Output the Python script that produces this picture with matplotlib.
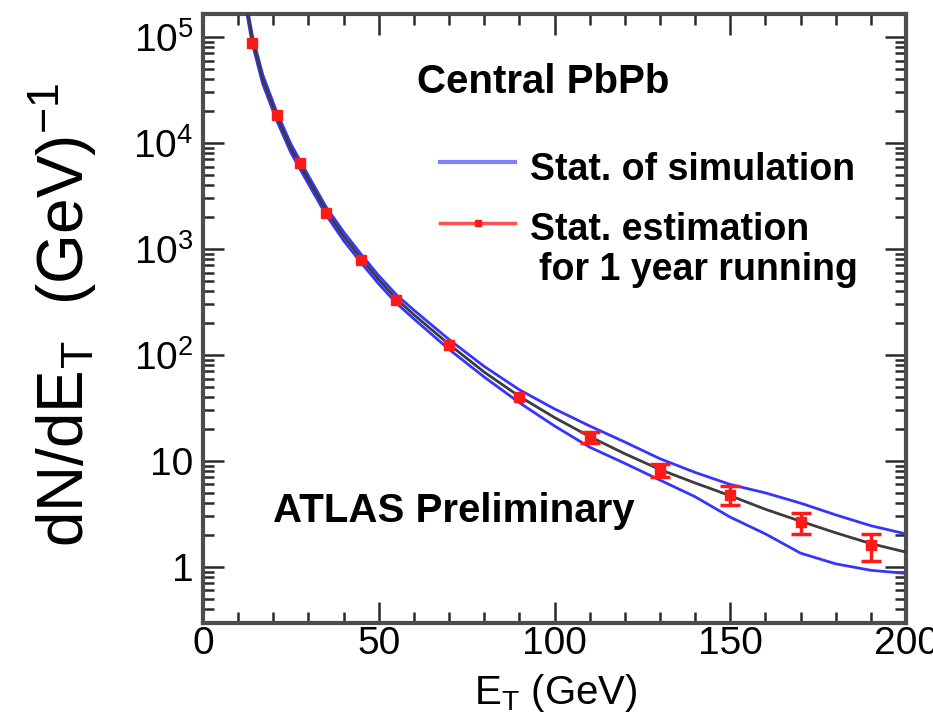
import matplotlib
matplotlib.use("Agg")
import numpy as np
import matplotlib.pyplot as plt
from matplotlib.lines import Line2D
from matplotlib.ticker import (MultipleLocator, LogLocator, FuncFormatter,
                               NullFormatter)

plt.rcParams['font.family'] = ['Liberation Sans', 'DejaVu Sans']
plt.rcParams['mathtext.fontset'] = 'custom'
plt.rcParams['mathtext.rm'] = 'Liberation Sans'
plt.rcParams['mathtext.it'] = 'Liberation Sans:italic'
plt.rcParams['mathtext.bf'] = 'Liberation Sans:bold'

# Projected measurement for one year of running (points with stat. errors)
et_pts = [14, 21, 27.5, 35, 45, 55, 70, 90, 110, 130, 150, 170, 190]
val_pts = [8.8e4, 1.83e4, 6.5e3, 2.2e3, 790, 330, 124, 40, 16.8, 8.2,
           4.8, 2.66, 1.6]
err_pts = [0, 0, 0, 0, 0, 0, 0, 0, 2.0, 1.2, 0.95, 0.6, 0.45]

# Central spectrum curve
fit_et = [12, 14, 17, 21, 25, 30, 35, 40, 45, 50, 55, 60, 70, 80, 90, 100,
          110, 120, 130, 140, 150, 160, 170, 180, 190, 200]
fit_val = [2.24e5, 9.5e4, 4.0e4, 1.78e4, 8.9e3, 4.5e3, 2.3e3, 1.32e3, 813,
           513, 339, 240, 126, 69, 40.7, 25.7, 17.0, 11.7, 8.3, 6.2, 4.7,
           3.5, 2.7, 2.1, 1.66, 1.38]

# Statistical band of the simulation (upper / lower edges)
band_et = fit_et
band_hi = [2.45e5, 1.05e5, 4.4e4, 1.95e4, 9.8e3, 4.9e3, 2.5e3, 1.45e3, 890,
           560, 370, 265, 140, 78, 47, 31, 21.4, 15.1, 10.5, 7.8, 6.0, 5.0,
           4.0, 3.1, 2.45, 2.05]
band_lo = [2.04e5, 8.7e4, 3.6e4, 1.62e4, 8.1e3, 4.1e3, 2.1e3, 1.2e3, 740,
           468, 309, 219, 113, 62, 35.5, 21.4, 13.5, 9.5, 6.6, 4.6, 2.95,
           2.05, 1.35, 1.07, 0.93, 0.87]

BLUE = '#3535ff'
RED = '#ff1a1a'
FIT = '#3c3c3c'

fig = plt.figure(figsize=(9.33, 7.16), dpi=100)
ax = fig.add_axes([0.2176, 0.1299, 0.7535, 0.8505])
ax.set_yscale('log')
ax.set_xlim(0, 200)
ax.set_ylim(0.296, 1.65e5)

ax.plot(band_et, band_hi, color=BLUE, lw=2.0, zorder=2)
ax.plot(band_et, band_lo, color=BLUE, lw=2.0, zorder=2)
ax.plot(fit_et, fit_val, color=FIT, lw=2.0, zorder=3)

ax.plot(et_pts, val_pts, ls='none', marker='s', ms=6.5, color=RED,
        mec=RED, zorder=5)
sel = [i for i, e in enumerate(err_pts) if e > 0]
ax.errorbar([et_pts[i] for i in sel], [val_pts[i] for i in sel],
            yerr=[err_pts[i] for i in sel], fmt='none', ecolor=RED,
            elinewidth=2.5, capsize=7, capthick=2.5, zorder=5)

# axes styling
for sp in ax.spines.values():
    sp.set_linewidth(3)
    sp.set_color('#4d4d4d')

ax.xaxis.set_major_locator(MultipleLocator(50))
ax.xaxis.set_minor_locator(MultipleLocator(10))
ax.yaxis.set_major_locator(LogLocator(base=10, numticks=20))
ax.yaxis.set_minor_locator(LogLocator(base=10, subs=np.arange(2, 10),
                                      numticks=20))
ax.yaxis.set_minor_formatter(NullFormatter())


def ylab(v, pos):
    n = int(round(np.log10(v)))
    if n == 0:
        return '1'
    if n == 1:
        return '10'
    return r'$\mathregular{10^{%d}}$' % n


ax.yaxis.set_major_formatter(FuncFormatter(ylab))
ax.tick_params(which='both', direction='in', top=True, right=True,
               width=1.8, color='#2a2a2a', labelsize=28)
ax.tick_params(which='major', length=15)
ax.tick_params(which='minor', length=8)
ax.tick_params(axis='x', pad=2)
ax.tick_params(axis='y', pad=7)

fig.text(63 / 933, 1 - 315 / 716,
         r'$\mathregular{dN/dE_{T}\ \ (GeV)^{-1}}$', rotation=90,
         ha='center', va='center', fontsize=46)
fig.text(556 / 933, 1 - 693 / 716, r'$\mathregular{E_{T}\ (GeV)}$',
         ha='center', va='center', fontsize=29)

ax.text(0.304, 0.870, 'Central PbPb', transform=ax.transAxes,
        fontsize=29, fontweight='bold', va='baseline', ha='left')
ax.text(0.0996, 0.166, 'ATLAS Preliminary', transform=ax.transAxes,
        fontsize=29, fontweight='bold', va='baseline', ha='left')

# legend
ax.add_line(Line2D([0.337, 0.444], [0.757, 0.757], transform=ax.transAxes,
                   color='#7f7fff', lw=3))
ax.text(0.465, 0.727, 'Stat. of simulation', transform=ax.transAxes,
        fontsize=27, fontweight='bold', va='baseline', ha='left')
ax.add_line(Line2D([0.337, 0.444], [0.657, 0.657], transform=ax.transAxes,
                   color='#ff5050', lw=2.5))
ax.add_line(Line2D([0.3905], [0.657], transform=ax.transAxes, marker='s',
                   ms=5, color=RED, mec=RED, ls='none'))
ax.text(0.465, 0.629, 'Stat. estimation', transform=ax.transAxes,
        fontsize=27, fontweight='bold', va='baseline', ha='left')
ax.text(0.478, 0.563, 'for 1 year running', transform=ax.transAxes,
        fontsize=27, fontweight='bold', va='baseline', ha='left')

fig.savefig('out.png', dpi=100)
